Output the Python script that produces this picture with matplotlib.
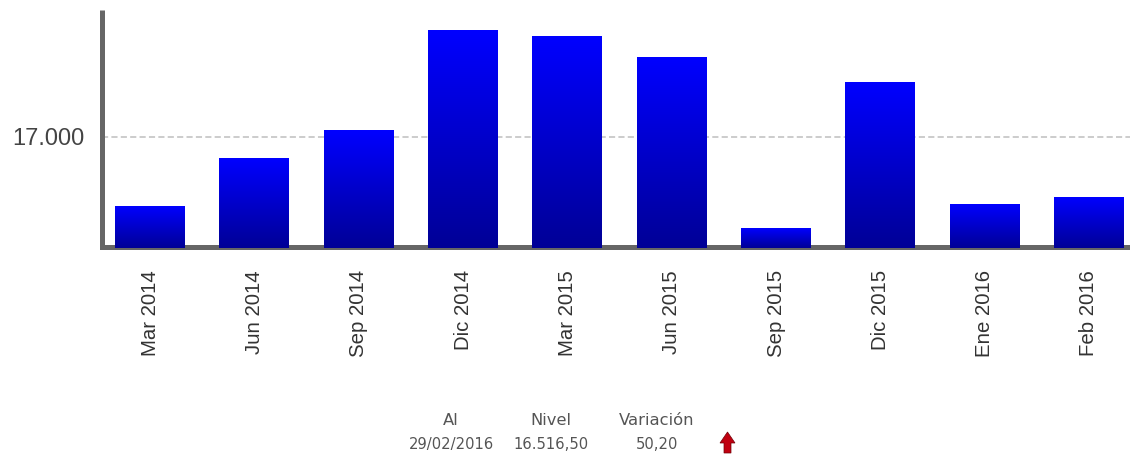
import numpy as np
import matplotlib
matplotlib.use('Agg')
import matplotlib.pyplot as plt
from matplotlib.patches import Polygon
from matplotlib.colors import LinearSegmentedColormap
from matplotlib.transforms import ScaledTranslation

periods = ['Mar 2014', 'Jun 2014', 'Sep 2014', 'Dic 2014', 'Mar 2015',
           'Jun 2015', 'Sep 2015', 'Dic 2015', 'Ene 2016', 'Feb 2016']
values = [16453, 16826, 17048, 17841, 17793, 17634, 16278, 17436, 16461, 16516.5]
y_ticks = [17000]
y_tick_labels = ['17.000']
info_heads = ['Al', 'Nivel', 'Variación']
info_values = ['29/02/2016', '16.516,50', '50,20']

W, H = 1130, 456
base = 16120

fig = plt.figure(figsize=(W / 100, H / 100), dpi=100)
ax = fig.add_axes([101.5 / W, 1 - 250 / H, (W - 101.5) / W, 239 / H])

# bars are gradient images, one per value
cmap = LinearSegmentedColormap.from_list('bar', ['#0000ff', '#000096'])
grad = np.linspace(0, 1, 256).reshape(-1, 1)
for i, v in enumerate(values):
    ax.imshow(grad, extent=[i - 0.335, i + 0.335, base, v], aspect='auto', cmap=cmap, zorder=3)

ax.set_xlim(-0.465, 9.393)
ax.set_ylim(16112, 18007)
ax.axhline(y_ticks[0], color='#c8c8c8', lw=1.3, ls=(0, (3.4, 1.8)), zorder=1)

for s in ['top', 'right']:
    ax.spines[s].set_visible(False)
for s in ['left', 'bottom']:
    ax.spines[s].set_linewidth(3.6)
    ax.spines[s].set_color('#666666')
ax.spines['left'].set_capstyle('butt')
ax.spines['bottom'].set_capstyle('projecting')
ax.spines['bottom'].set_position(('outward', -1.4))

ax.set_xticks(range(len(periods)))
ax.set_xticklabels(periods, rotation=90, family='Liberation Sans', fontsize=14.7, color='#333333')
ax.tick_params(axis='x', length=0, pad=16)
ax.set_yticks(y_ticks)
ax.set_yticklabels(y_tick_labels, family='Liberation Sans', fontsize=17, color='#444444')
ax.tick_params(axis='y', length=1.5, width=1.5, color='#666666', pad=10)
# label sits a little above the tick in the original
for lab in ax.get_yticklabels():
    lab.set_transform(lab.get_transform() + ScaledTranslation(-1 / 100, 2 / 100, fig.dpi_scale_trans))

xs = [451, 551, 657]
for x, head, val in zip(xs, info_heads, info_values):
    fig.text(x / W, 1 - 421 / H, head, ha='center', va='center', fontsize=11.8, color='#555555', family='DejaVu Sans')
    fig.text(x / W, 1 - 445 / H, val, ha='center', va='center', fontsize=10.6, color='#555555', family='DejaVu Sans')

# small red arrow next to the variation
arrow = [(727.5, 433), (735, 444), (731, 444), (731, 454), (724, 454), (724, 444), (720, 444)]
fig.add_artist(Polygon([(x / W, 1 - y / H) for x, y in arrow], closed=True, transform=fig.transFigure,
                       facecolor='#c00010', edgecolor='#700008', lw=0.5))

fig.savefig('out.png', dpi=100)
